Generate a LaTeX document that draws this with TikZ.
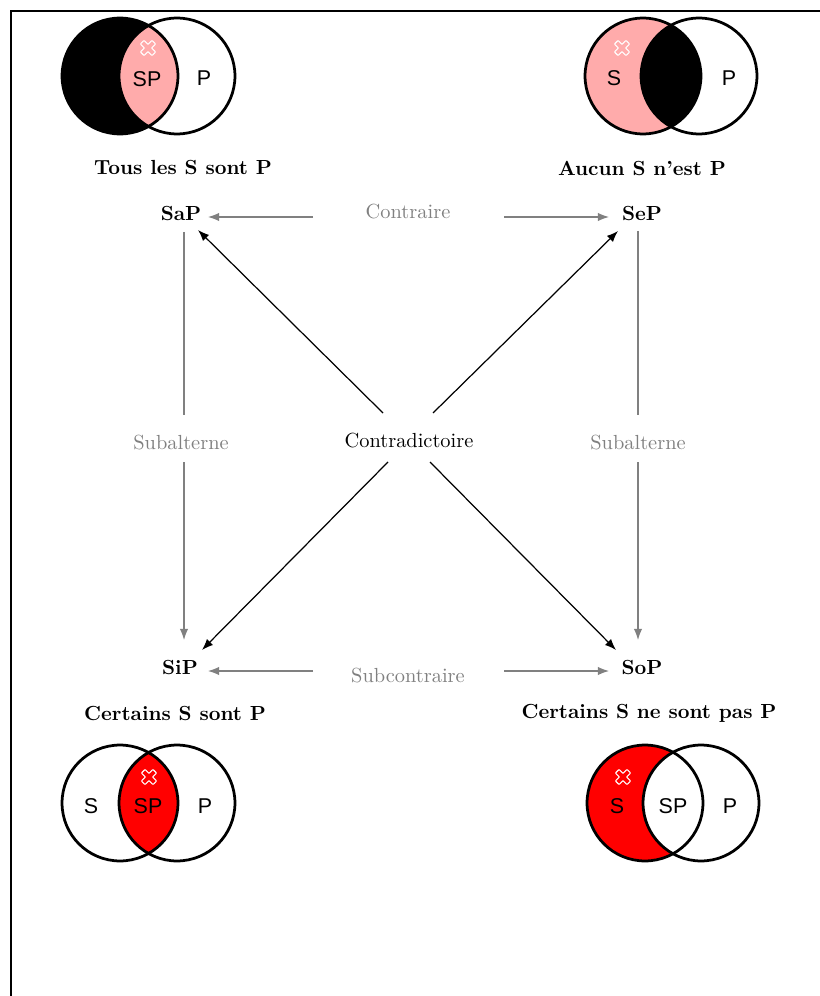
\documentclass[tikz,border=0pt]{standalone}
\usepackage{fontspec}
\newfontfamily\vfont{Liberation Sans}
\usetikzlibrary{arrows.meta}
\tikzset{
  garrow/.style={draw=gray, line width=0.6pt, -{Latex[length=5.5pt,width=4.2pt]}},
  gline/.style={draw=gray, line width=0.6pt},
  barrow/.style={draw=black, line width=0.6pt, -{Latex[length=5.5pt,width=4.2pt]}},
  corner/.style={font=\bfseries},
  caption/.style={font=\bfseries},
  glabel/.style={text=gray},
  vtext/.style={font=\vfont\fontsize{10.5}{12}\selectfont},
  vcirc/.style={draw=black, line width=1.35pt},
  pics/xcross/.style={code={
    \draw[white, line width=0.55pt, rounded corners=0.3pt, rotate=45]
      (1.25pt,4pt) -- (-1.25pt,4pt) -- (-1.25pt,1.25pt) -- (-4pt,1.25pt) --
      (-4pt,-1.25pt) -- (-1.25pt,-1.25pt) -- (-1.25pt,-4pt) -- (1.25pt,-4pt) --
      (1.25pt,-1.25pt) -- (4pt,-1.25pt) -- (4pt,1.25pt) -- (1.25pt,1.25pt) -- cycle;
  }}
}
\begin{document}
\begin{tikzpicture}[x=0.49pt,y=-0.49pt]
\useasboundingbox (0,0) rectangle (819,996);
% frame
\draw[line width=1pt] (11,1100) -- (11,11) -- (900,11);

\def\R{28.4pt}
% ---- top-left: Tous les S sont P
\coordinate (tlA) at (120,76);
\coordinate (tlB) at (177,76);
\fill[black] (tlA) circle[radius=\R];
\begin{scope}
  \clip (tlA) circle[radius=\R];
  \fill[red!33] (tlB) circle[radius=\R];
\end{scope}
\draw[vcirc] (tlA) circle[radius=\R];
\draw[vcirc] (tlB) circle[radius=\R];
\node[vtext] (tlsp) at (147,79) {SP};
\node[vtext] (tlp) at (204,78) {P};
\pic at (148,48) {xcross};

% ---- top-right: Aucun S n'est P
\coordinate (trA) at (643,76);
\coordinate (trB) at (699,76);
\fill[red!33] (trA) circle[radius=\R];
\begin{scope}
  \clip (trA) circle[radius=\R];
  \fill[black] (trB) circle[radius=\R];
\end{scope}
\draw[vcirc] (trA) circle[radius=\R];
\draw[vcirc] (trB) circle[radius=\R];
\node[vtext] (trs) at (614,78) {S};
\node[vtext] (trp) at (729,78) {P};
\pic at (622,48) {xcross};

% ---- bottom-left: Certains S sont P
\coordinate (blA) at (120,803);
\coordinate (blB) at (177,803);
\begin{scope}
  \clip (blA) circle[radius=\R];
  \fill[red] (blB) circle[radius=\R];
\end{scope}
\draw[vcirc] (blA) circle[radius=\R];
\draw[vcirc] (blB) circle[radius=\R];
\node[vtext] (bls) at (91,806) {S};
\node[vtext] (blsp) at (148,806) {SP};
\node[vtext] (blp) at (205,806) {P};
\pic at (149,777) {xcross};

% ---- bottom-right: Certains S ne sont pas P
\coordinate (brA) at (645,803);
\coordinate (brB) at (701,803);
\begin{scope}[even odd rule]
  \clip (brA) circle[radius=\R];
  \fill[red] (brA) circle[radius=\R] (brB) circle[radius=\R];
\end{scope}
\draw[vcirc] (brA) circle[radius=\R];
\draw[vcirc] (brB) circle[radius=\R];
\node[vtext] (brs) at (617,806) {S};
\node[vtext] (brsp) at (673,806) {SP};
\node[vtext] (brp) at (730,806) {P};
\pic at (623,777) {xcross};

% captions
\node[caption] (captl) at (183,168) {Tous les S sont P};
\node[caption] (captr) at (642,168) {Aucun S n’est P};
\node[caption] (capbl) at (175,713) {Certains S sont P};
\node[caption] (capbr) at (649,713) {Certains S ne sont pas P};

% corner nodes
\node[corner] (sap) at (181,213) {SaP};
\node[corner] (sep) at (642,213) {SeP};
\node[corner] (sip) at (180,667) {SiP};
\node[corner] (sop) at (642,667) {SoP};

% relation labels
\node[glabel] (contraire) at (408,212) {Contraire};
\node[glabel] (subcontraire) at (408,676) {Subcontraire};
\node[glabel] (subl) at (181,443) {Subalterne};
\node[glabel] (subr) at (638,443) {Subalterne};
\node (contra) at (409,441) {Contradictoire};

% connector endpoints
\coordinate (c1) at (313,217); \coordinate (c1e) at (208,217);
\coordinate (c2) at (504,217); \coordinate (c2e) at (609,217);
\coordinate (s1) at (313,671); \coordinate (s1e) at (208,671);
\coordinate (s2) at (504,671); \coordinate (s2e) at (609,671);
\coordinate (l1) at (184,232); \coordinate (l1e) at (184,415);
\coordinate (l2) at (184,462); \coordinate (l2e) at (184,640);
\coordinate (r1) at (638,231); \coordinate (r1e) at (638,415);
\coordinate (r2) at (638,462); \coordinate (r2e) at (638,640);
\coordinate (d1) at (383,413); \coordinate (d1e) at (198,230);
\coordinate (d2) at (433,413); \coordinate (d2e) at (618,231);
\coordinate (d3) at (388,462); \coordinate (d3e) at (202,650);
\coordinate (d4) at (430,462); \coordinate (d4e) at (616,650);

\draw[garrow] (c1) -- (c1e);
\draw[garrow] (c2) -- (c2e);
\draw[garrow] (s1) -- (s1e);
\draw[garrow] (s2) -- (s2e);
\draw[gline] (l1) -- (l1e);
\draw[garrow] (l2) -- (l2e);
\draw[gline] (r1) -- (r1e);
\draw[garrow] (r2) -- (r2e);
\draw[barrow] (d1) -- (d1e);
\draw[barrow] (d2) -- (d2e);
\draw[barrow] (d3) -- (d3e);
\draw[barrow] (d4) -- (d4e);
\end{tikzpicture}
\end{document}
